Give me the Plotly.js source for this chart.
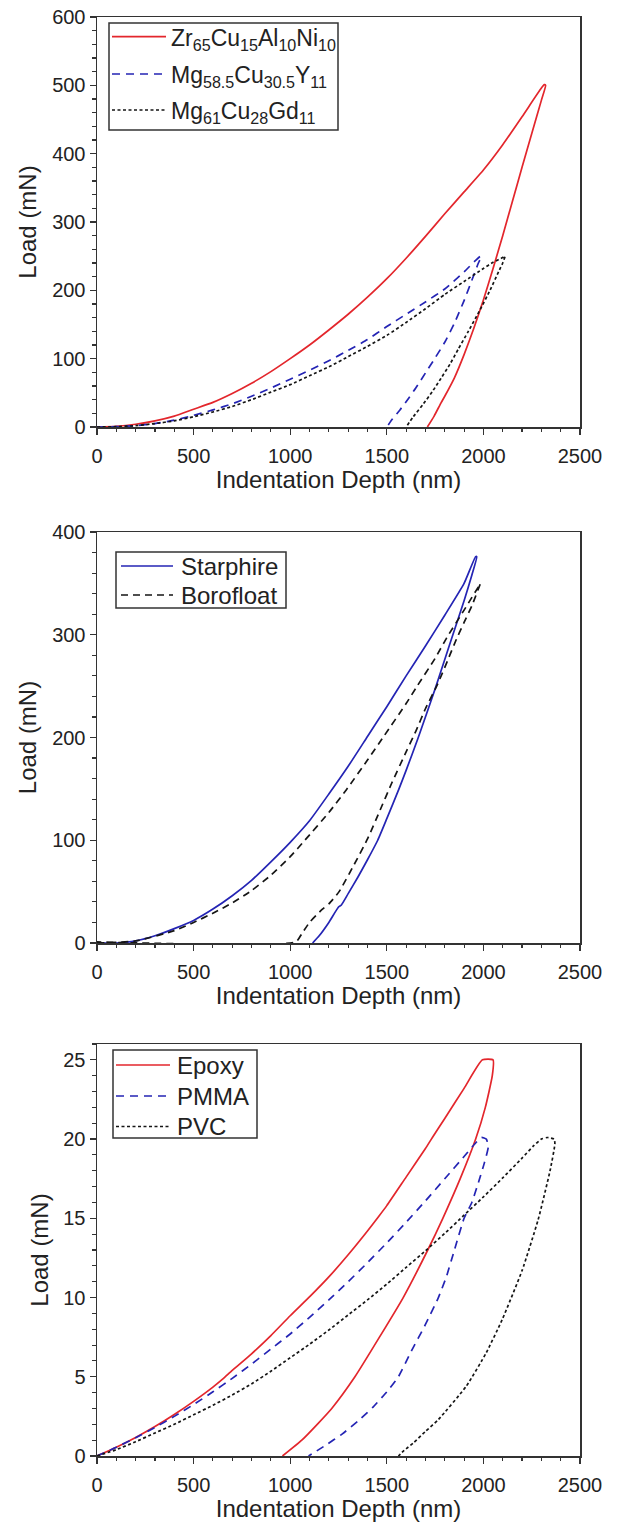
<!DOCTYPE html>
<html><head><meta charset="utf-8">
<script src="https://cdn.plot.ly/plotly-3.0.1.min.js"></script>
<style>body{margin:0;background:#fff}</style>
</head><body><div id="chart" style="width:617px;height:1526px"></div>
<script>
// ---------- Panel 1: metallic glasses ----------
const zrLoadDepth   = [0,100,200,300,400,500,600,700,800,900,1000,1100,1200,1300,1400,1500,1600,1700,1800,1900,2000,2100,2200,2300,2315];
const zrLoadForce   = [0,1,4,9,16,26,36,49,64,81,100,120,142,165,190,217,247,279,312,344,376,413,454,496,501];
const zrUnloadDepth = [2322,2300,2250,2200,2150,2100,2050,2000,1950,1900,1850,1800,1780,1745,1710];
const zrUnloadForce = [500,478,429,380,330,280,232,186,144,106,72,45,35,16,0];

const mgyLoadDepth   = [0,100,200,300,400,500,600,700,800,900,1000,1100,1200,1300,1400,1500,1600,1700,1800,1900,1960,1985];
const mgyLoadForce   = [0,0.5,2,5,10,17,25,34,45,57,70,83,97,112,128,147,165,183,202,227,244,250];
const mgyUnloadDepth = [1990,1974,1950,1900,1850,1800,1750,1700,1650,1600,1568,1530,1500];
const mgyUnloadForce = [250,240,222,185,152,124,101,79,57,37,25,12,0];

const mggLoadDepth   = [0,100,200,300,400,500,600,700,800,900,1000,1100,1200,1300,1400,1500,1600,1700,1800,1900,2000,2050,2100,2110];
const mggLoadForce   = [0,0.5,2,5,9,15,22,30,40,51,62,75,88,103,118,134,153,173,194,213,232,241,248,250];
const mggUnloadDepth = [2112,2100,2080,2034,1982,1922,1870,1827,1780,1741,1690,1637,1600];
const mggUnloadForce = [250,240,228,200,171,140,114,92,71,54,34,15,0];

// ---------- Panel 2: glasses ----------
const starLoadDepth   = [0,100,200,300,400,500,600,700,800,900,1000,1100,1200,1300,1400,1500,1600,1700,1800,1900,1960];
const starLoadForce   = [0,0,2,7,14,22,33,46,61,79,98,119,145,172,201,230,260,289,319,350,376];
const starUnloadDepth = [1966,1940,1900,1842,1800,1755,1700,1661,1600,1563,1500,1453,1400,1350,1300,1265,1250,1200,1150,1116];
const starUnloadForce = [376,358,333,300,276,250,220,199,168,150,121,100,81,64,48,37,35,20,7,0];

const boroLoadDepth   = [0,200,400,500,600,700,800,900,1000,1076,1200,1290,1400,1484,1600,1657,1750,1810,1900,1985];
const boroLoadForce   = [0,2,12,20,29,39,51,66,84,100,127,149,178,201,233,250,277,297,324,350];
const boroUnloadDepth = [1985,1940,1900,1861,1815,1763,1700,1650,1600,1524,1460,1402,1330,1253,1200,1167,1100,1060,1029,0];
const boroUnloadForce = [350,328,312,296,275,252,228,206,186,155,127,102,76,50,38,33,20,9,1,1];

// ---------- Panel 3: polymers ----------
const epoxyLoadDepth   = [0,100,200,300,400,500,600,650,700,800,900,1000,1105,1200,1300,1400,1457,1500,1600,1700,1736,1800,1900,1995,2050];
const epoxyLoadForce   = [0,0.55,1.17,1.86,2.62,3.45,4.35,4.85,5.4,6.45,7.6,8.85,10.1,11.3,12.7,14.2,15.1,15.8,17.6,19.4,20.1,21.3,23.2,25,25];
const epoxyUnloadDepth = [2046,2010,1960,1880,1790,1712,1585,1462,1335,1215,1140,1060,960];
const epoxyUnloadForce = [24,22,20,17.5,15,13,10,7.5,5,3,2,1,0];

const pmmaLoadDepth   = [0,100,200,300,400,500,600,700,800,900,1000,1100,1200,1300,1400,1500,1600,1700,1800,1900,1963,1990,2015,2025];
const pmmaLoadForce   = [0,0.55,1.15,1.8,2.5,3.25,4.05,4.9,5.8,6.75,7.7,8.75,9.85,11.0,12.2,13.45,14.75,16.1,17.5,18.9,19.8,20.1,20,19.5];
const pmmaUnloadDepth = [2005,1983,1940,1900,1850,1808,1767,1700,1622,1560,1500,1430,1350,1270,1180,1095];
const pmmaUnloadForce = [18.5,17.6,16,15,13,11.3,10,8.3,6.5,5,4.05,3.1,2.2,1.4,0.65,0];

const pvcLoadDepth   = [0,100,200,300,400,500,600,700,800,900,1000,1100,1200,1300,1400,1500,1600,1700,1800,1900,2000,2100,2200,2262,2300,2330,2366];
const pvcLoadForce   = [0,0.4,0.9,1.45,2.0,2.6,3.2,3.85,4.55,5.35,6.2,7.05,7.95,8.9,9.85,10.85,11.9,12.95,14.05,15.2,16.35,17.55,18.8,19.6,20.0,20.1,20];
const pvcUnloadDepth = [2370,2345,2283,2200,2097,2014,1911,1767,1700,1640,1590,1560];
const pvcUnloadForce = [19.7,18,14.9,11.7,8.6,6.5,4.4,2.3,1.55,0.85,0.35,0];

const legendNames1 = ['Zr<sub>65</sub>Cu<sub>15</sub>Al<sub>10</sub>Ni<sub>10</sub>',
                      'Mg<sub>58.5</sub>Cu<sub>30.5</sub>Y<sub>11</sub>',
                      'Mg<sub>61</sub>Cu<sub>28</sub>Gd<sub>11</sub>'];
const legendNames2 = ['Starphire','Borofloat'];
const legendNames3 = ['Epoxy','PMMA','PVC'];

const xTitle = 'Indentation Depth (nm)';
const yTitle = 'Load (mN)';

const RED = '#e3262c', BLUE = '#2424b4', BLACK = '#151515';
const DASH = '8px,6px', DASH2 = '7px,5px', DOT = '3px,2.5px';

function tr(ld, lf, ud, uf, name, color, dash, xa, ya) {
  return {
    x: ld.concat(ud), y: lf.concat(uf), name: name, type: 'scatter', mode: 'lines',
    line: {color: color, width: 1.7, dash: dash, shape: 'spline', smoothing: 0.5},
    xaxis: xa, yaxis: ya, showlegend: false
  };
}

const data = [
  tr(zrLoadDepth, zrLoadForce, zrUnloadDepth, zrUnloadForce, legendNames1[0], RED, 'solid', 'x', 'y'),
  tr(mgyLoadDepth, mgyLoadForce, mgyUnloadDepth, mgyUnloadForce, legendNames1[1], BLUE, DASH, 'x', 'y'),
  tr(mggLoadDepth, mggLoadForce, mggUnloadDepth, mggUnloadForce, legendNames1[2], BLACK, DOT, 'x', 'y'),
  tr(starLoadDepth, starLoadForce, starUnloadDepth, starUnloadForce, legendNames2[0], BLUE, 'solid', 'x2', 'y2'),
  tr(boroLoadDepth, boroLoadForce, boroUnloadDepth, boroUnloadForce, legendNames2[1], BLACK, DASH2, 'x2', 'y2'),
  tr(epoxyLoadDepth, epoxyLoadForce, epoxyUnloadDepth, epoxyUnloadForce, legendNames3[0], RED, 'solid', 'x3', 'y3'),
  tr(pmmaLoadDepth, pmmaLoadForce, pmmaUnloadDepth, pmmaUnloadForce, legendNames3[1], BLUE, DASH, 'x3', 'y3'),
  tr(pvcLoadDepth, pvcLoadForce, pvcUnloadDepth, pvcUnloadForce, legendNames3[2], BLACK, DOT, 'x3', 'y3')
];

const FONT = 'Liberation Sans, Arial, sans-serif';
const TXT = '#222';
const W = 617, H = 1526, ML = 97, MR = 37, MT = 17, MB = 70;
const PW = W - ML - MR, PH = H - MT - MB;
const px2x = p => (p - ML) / PW;
const py2y = p => (H - MB - p) / PH;

function xAxis(anchor) {
  return {
    anchor: anchor, range: [0, 2500], dtick: 500, tick0: 0,
    ticks: 'outside', ticklen: 6, tickwidth: 1.3, tickcolor: '#333',
    minor: {dtick: 100, ticks: 'outside', ticklen: 3.5, tickwidth: 1.1, tickcolor: '#333'},
    showline: true, linecolor: '#333', linewidth: 1.5, mirror: true,
    showgrid: false, zeroline: false, ticklabelstandoff: 4,
    tickfont: {size: 20, color: TXT, family: FONT},
    title: {text: xTitle, font: {size: 24, color: TXT, family: FONT}, standoff: 4},
    fixedrange: true
  };
}
function yAxis(anchor, domain, range, dtick, minorDtick) {
  return {
    anchor: anchor, domain: domain, range: range, dtick: dtick, tick0: 0,
    ticks: 'outside', ticklen: 6, tickwidth: 1.3, tickcolor: '#333',
    minor: {dtick: minorDtick, ticks: 'outside', ticklen: 3.5, tickwidth: 1.1, tickcolor: '#333'},
    showline: true, linecolor: '#333', linewidth: 1.5, mirror: true,
    showgrid: false, zeroline: false,
    tickfont: {size: 20, color: TXT, family: FONT},
    title: {text: yTitle, font: {size: 24, color: TXT, family: FONT}, standoff: 8},
    fixedrange: true
  };
}

// custom legend boxes (pixel geometry converted to paper coordinates)
const shapes = [], annotations = [];
function legendBlock(box, rows, lineX0, lineX1, textX, fontSize, textDy) {
  shapes.push({type: 'rect', xref: 'paper', yref: 'paper',
    x0: px2x(box[0]), x1: px2x(box[1]), y0: py2y(box[3]), y1: py2y(box[2]),
    line: {color: '#333', width: 1.5}, fillcolor: 'rgba(255,255,255,0)', layer: 'above'});
  rows.forEach(r => {
    shapes.push({type: 'line', xref: 'paper', yref: 'paper',
      x0: px2x(lineX0), x1: px2x(lineX1), y0: py2y(r.y), y1: py2y(r.y),
      line: {color: r.color, width: 1.7, dash: r.dash}, layer: 'above'});
    annotations.push({xref: 'paper', yref: 'paper', x: px2x(textX), y: py2y(r.y + textDy),
      xanchor: 'left', yanchor: 'middle', showarrow: false, text: r.name,
      font: {size: fontSize, color: TXT, family: FONT}});
  });
}
legendBlock([109, 338, 23, 130], [
  {y: 36.7, name: legendNames1[0], color: RED, dash: 'solid'},
  {y: 74, name: legendNames1[1], color: BLUE, dash: DASH},
  {y: 110, name: legendNames1[2], color: BLACK, dash: DOT}
], 112, 166, 169, 23, 2.5);
legendBlock([116, 286, 552, 608], [
  {y: 566, name: legendNames2[0], color: BLUE, dash: 'solid'},
  {y: 595, name: legendNames2[1], color: BLACK, dash: DASH2}
], 121, 173, 179, 24, 0);
legendBlock([113, 257, 1050, 1138], [
  {y: 1065, name: legendNames3[0], color: RED, dash: 'solid'},
  {y: 1096, name: legendNames3[1], color: BLUE, dash: DASH},
  {y: 1126.5, name: legendNames3[2], color: BLACK, dash: DOT}
], 116, 170, 175, 24, 0);

const layout = {
  width: W, height: H,
  margin: {l: ML, r: MR, t: MT, b: MB},
  paper_bgcolor: '#fff', plot_bgcolor: '#fff',
  font: {family: FONT, color: TXT},
  xaxis: xAxis('y'),
  yaxis: yAxis('x', [py2y(427), 1.0], [0, 600], 100, 20),
  xaxis2: xAxis('y2'),
  yaxis2: yAxis('x2', [py2y(943), py2y(532)], [0, 400], 100, 20),
  xaxis3: xAxis('y3'),
  yaxis3: yAxis('x3', [0, py2y(1044)], [0, 26], 5, 1),
  shapes: shapes, annotations: annotations,
  showlegend: false
};

Plotly.newPlot('chart', data, layout, {displayModeBar: false, staticPlot: true});
</script></body></html>
